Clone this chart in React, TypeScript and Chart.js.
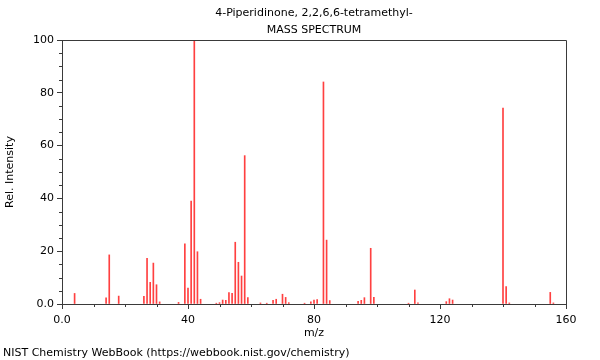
import React, { useEffect, useRef } from "react";
import { Chart, registerables } from "chart.js";

Chart.register(...registerables);

const TITLE_LINE1 = "4-Piperidinone, 2,2,6,6-tetramethyl-";
const TITLE_LINE2 = "MASS SPECTRUM";
const FOOTER = "NIST Chemistry WebBook (https://webbook.nist.gov/chemistry)";
const X_LABEL = "m/z";
const Y_LABEL = "Rel. Intensity";

const MZ = [
  4, 14, 15, 18, 26, 27, 28, 29, 30, 31, 37, 39, 40, 41, 42, 43, 44, 49, 50, 51,
  52, 53, 54, 55, 56, 57, 58, 59, 63, 65, 67, 68, 70, 71, 72, 77, 79, 80, 81, 83,
  84, 85, 94, 95, 96, 98, 99, 110, 112, 113, 122, 123, 124, 140, 141, 142, 155, 156,
];
const INTENSITY = [
  4.0, 2.3, 18.6, 3.0, 2.9, 17.3, 8.2, 15.5, 7.3, 0.8, 0.6, 22.8, 6.0, 39.0, 100, 19.8, 1.8, 0.3, 0.5, 1.5,
  1.4, 4.3, 4.0, 23.4, 15.8, 10.6, 56.2, 2.4, 0.4, 0.3, 1.4, 1.8, 3.7, 2.5, 0.5, 0.3, 0.8, 1.5, 1.7, 84.1,
  24.2, 1.3, 1.0, 1.4, 2.4, 21.1, 2.5, 0.3, 5.3, 0.4, 0.9, 2.0, 1.5, 74.2, 6.6, 0.4, 4.4, 0.4,
];

const X_MIN = 0;
const X_MAX = 160;
const X_MAJOR = 40;
const X_MINOR = 10;
const Y_MIN = 0;
const Y_MAX = 100;
const Y_MAJOR = 20;
const Y_MINOR = 5;

const AXIS_COLOR = "#3a3a3a";
const BAR_COLOR = "#ff4040";
const FONT = "'DejaVu Sans', sans-serif";

const overlay = {
  id: "overlay",
  afterDraw(chart: any) {
    const { ctx, chartArea: a, scales } = chart;
    const xs = scales.x;
    const ys = scales.y;
    ctx.save();
    ctx.strokeStyle = AXIS_COLOR;
    ctx.lineWidth = 1;
    const al = (v: number) => Math.round(v) + 0.5;
    ctx.beginPath();
    ctx.moveTo(al(a.left), al(a.top));
    ctx.lineTo(al(a.right), al(a.top));
    ctx.lineTo(al(a.right), al(a.bottom));
    ctx.stroke();
    ctx.beginPath();
    for (let v = Y_MIN + Y_MINOR; v < Y_MAX; v += Y_MINOR) {
      if (v % Y_MAJOR === 0) continue;
      const py = al(ys.getPixelForValue(v));
      ctx.moveTo(a.left - 3, py);
      ctx.lineTo(a.left, py);
    }
    for (let v = X_MIN + X_MINOR; v < X_MAX; v += X_MINOR) {
      if (v % X_MAJOR === 0) continue;
      const px = al(xs.getPixelForValue(v));
      ctx.moveTo(px, a.bottom);
      ctx.lineTo(px, a.bottom + 3);
    }
    ctx.stroke();
    ctx.fillStyle = "#000";
    ctx.font = `11px ${FONT}`;
    ctx.textAlign = "center";
    ctx.textBaseline = "middle";
    const cx = (a.left + a.right) / 2;
    ctx.fillText(TITLE_LINE1, cx, 13);
    ctx.fillText(TITLE_LINE2, cx, 30);
    ctx.textAlign = "left";
    ctx.fillText(FOOTER, 3, 353);
    ctx.restore();
  },
};

export default function App() {
  const ref = useRef<HTMLCanvasElement | null>(null);
  useEffect(() => {
    document.body.style.margin = "0";
    const canvas = ref.current;
    if (!canvas) return;
    const data = MZ.map((m, i) => ({ x: m, y: INTENSITY[i] }));
    const chart = new Chart(canvas, {
      type: "bar",
      data: {
        datasets: [
          {
            data,
            backgroundColor: BAR_COLOR,
            borderWidth: 0,
            barThickness: 1,
          } as any,
        ],
      },
      options: {
        animation: false,
        responsive: false,
        devicePixelRatio: 1,
        layout: { padding: { top: 40, right: 34, left: 0, bottom: 0 } },
        plugins: {
          legend: { display: false },
          tooltip: { enabled: false },
          title: { display: false },
        },
        scales: {
          x: {
            type: "linear",
            min: X_MIN,
            max: X_MAX,
            offset: false,
            afterFit: (s: any) => {
              s.height = 56;
            },
            grid: {
              offset: false,
              drawOnChartArea: false,
              drawTicks: true,
              tickLength: 5,
              color: AXIS_COLOR,
            },
            border: { display: true, color: AXIS_COLOR },
            ticks: {
              stepSize: X_MAJOR,
              padding: 5,
              color: "#000",
              font: { family: FONT, size: 11 },
              maxRotation: 0,
              callback: (v: any) => (Number(v) === 0 ? "0.0" : String(v)),
            },
            title: {
              display: true,
              text: X_LABEL,
              color: "#000",
              font: { family: FONT, size: 11 },
              padding: { top: 0, bottom: 20 },
            },
          },
          y: {
            type: "linear",
            min: Y_MIN,
            max: Y_MAX,
            afterFit: (s: any) => {
              s.width = 62;
            },
            grid: {
              drawOnChartArea: false,
              drawTicks: true,
              tickLength: 5,
              color: AXIS_COLOR,
            },
            border: { display: true, color: AXIS_COLOR },
            ticks: {
              stepSize: Y_MAJOR,
              padding: 3,
              color: "#000",
              font: { family: FONT, size: 11 },
              callback: (v: any) => (Number(v) === 0 ? "0.0" : String(v)),
            },
            title: {
              display: true,
              text: Y_LABEL,
              color: "#000",
              font: { family: FONT, size: 11 },
              padding: { top: 4, bottom: 0 },
            },
          },
        },
      },
      plugins: [overlay],
    });
    return () => chart.destroy();
  }, []);
  return (
    <canvas
      ref={ref}
      width={600}
      height={360}
      style={{ display: "block", width: 600, height: 360 }}
    />
  );
}
